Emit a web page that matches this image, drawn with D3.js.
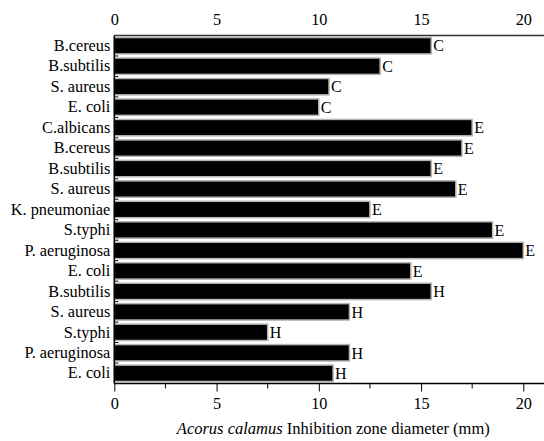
<!DOCTYPE html>
<html>
<head>
<meta charset="utf-8">
<script src="https://cdn.jsdelivr.net/npm/d3@7"></script>
<style>
  body { margin: 0; background: #fff; }
  text { font-family: "Liberation Serif", "Times New Roman", serif; }
</style>
</head>
<body>
<div id="chart-container"></div>
<script>
// organisms, top to bottom
const organisms = ["B.cereus", "B.subtilis", "S. aureus", "E. coli", "C.albicans", "B.cereus",
    "B.subtilis", "S. aureus", "K. pneumoniae", "S.typhi", "P. aeruginosa", "E. coli",
    "B.subtilis", "S. aureus", "S.typhi", "P. aeruginosa", "E. coli"];
// inhibition zone diameter (mm)
const diameters = [15.5, 13, 10.5, 10, 17.5, 17, 15.5, 16.7, 12.5, 18.5, 20, 14.5, 15.5, 11.5, 7.5, 11.5, 10.7];
// extract group letter
const groups = ["C", "C", "C", "C", "E", "E", "E", "E", "E", "E", "E", "E", "H", "H", "H", "H", "H"];
const xTicks = [0, 5, 10, 15, 20];
const xMinorTicks = [2.5, 7.5, 12.5, 17.5];

function makeChart() {
    const margin = { top: 35.5, right: 0, bottom: 57.5, left: 114.3 };
    const width = 544 - margin.left - margin.right;
    const height = 441 - margin.top - margin.bottom;

    const svg = d3.select("#chart-container")
        .append("svg")
        .attr("width", 544)
        .attr("height", 441)
        .append("g")
        .attr("transform", "translate(" + margin.left + "," + margin.top + ")");

    const x = d3.scaleLinear().domain([0, 20]).range([0, 409]);
    const y = d3.scaleBand()
        .domain(d3.range(organisms.length))
        .range([0, height])
        .paddingInner(0.2)
        .paddingOuter(0.1);

    const rows = organisms.map((name, i) => ({ name, value: diameters[i], group: groups[i], i }));

    // bars
    svg.selectAll(".bar")
        .data(rows)
        .enter()
        .append("rect")
        .attr("class", "bar")
        .attr("x", 0)
        .attr("y", d => y(d.i))
        .attr("width", d => x(d.value))
        .attr("height", y.bandwidth())
        .style("fill", "#000")
        .style("stroke", "#b4b4b4")
        .style("stroke-width", 1.5);

    // letters at bar ends
    svg.selectAll(".grp")
        .data(rows)
        .enter()
        .append("text")
        .attr("x", d => x(d.value) + 2)
        .attr("y", d => y(d.i) + y.bandwidth() / 2)
        .attr("dy", "0.36em")
        .style("font-size", "16px")
        .text(d => d.group);

    // bottom axis
    const bottom = svg.append("g")
        .attr("transform", "translate(0," + height + ")")
        .call(d3.axisBottom(x).tickValues(xTicks).tickSize(8).tickPadding(6).tickFormat(d3.format("d")));
    bottom.append("g").selectAll("line")
        .data(xMinorTicks)
        .enter()
        .append("line")
        .attr("x1", d => x(d)).attr("x2", d => x(d))
        .attr("y1", 0).attr("y2", 5)
        .attr("stroke", "#000");

    // top axis (labels only)
    svg.append("g")
        .call(d3.axisTop(x).tickValues(xTicks).tickSize(0).tickPadding(11).tickFormat(d3.format("d")));

    svg.selectAll(".domain").remove();

    // axis lines across full width
    svg.append("line").attr("x1", 0).attr("x2", width).attr("y1", 0).attr("y2", 0)
        .attr("stroke", "#333").attr("stroke-width", 1.5);
    svg.append("line").attr("x1", 0).attr("x2", width).attr("y1", height).attr("y2", height)
        .attr("stroke", "#000").attr("stroke-width", 1.5);

    // left axis
    const left = svg.append("g")
        .call(d3.axisLeft(y).tickFormat(i => organisms[i]).tickSize(0).tickPadding(4));
    left.select(".domain").remove();
    svg.append("line").attr("x1", 0).attr("x2", 0).attr("y1", 0).attr("y2", height)
        .attr("stroke", "#000").attr("stroke-width", 1.5);
    // small inward ticks at category boundaries
    svg.append("g").selectAll("line")
        .data(d3.range(1, organisms.length))
        .enter()
        .append("line")
        .attr("x1", 0).attr("x2", 4)
        .attr("y1", i => y.step() * i)
        .attr("y2", i => y.step() * i)
        .attr("stroke", "#000");

    svg.selectAll(".tick text").style("font-size", "16.3px").style("font-family", "Liberation Serif");

    const title = svg.append("text")
        .attr("x", 219)
        .attr("y", height + 50)
        .style("text-anchor", "middle")
        .style("font-size", "16.5px");
    title.append("tspan").style("font-style", "italic").text("Acorus calamus");
    title.append("tspan").text(" Inhibition zone diameter (mm)");
}
makeChart();
</script>
</body>
</html>
